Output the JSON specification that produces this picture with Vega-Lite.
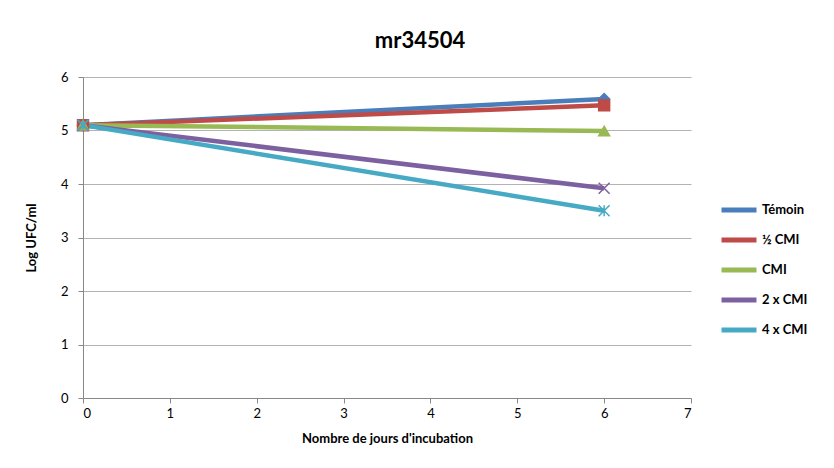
{
  "$schema": "https://vega.github.io/schema/vega-lite/v6.json",
  "width": 608,
  "height": 321,
  "autosize": {"type": "none"},
  "padding": {"left": 83, "top": 77, "right": 143, "bottom": 70},
  "background": "white",
  "config": {
    "font": "Lato",
    "view": {"stroke": null}
  },
  "title": {
    "text": "mr34504",
    "fontSize": 22,
    "fontWeight": "bold",
    "font": "Lato",
    "color": "#000000",
    "anchor": "middle",
    "dx": 33,
    "offset": 18
  },
  "data": {
    "values": [
      {"jour": 0, "serie": "Témoin", "val": 5.1, "ord": 1},
      {"jour": 6, "serie": "Témoin", "val": 5.59, "ord": 1},
      {"jour": 0, "serie": "½ CMI", "val": 5.1, "ord": 2},
      {"jour": 6, "serie": "½ CMI", "val": 5.47, "ord": 2},
      {"jour": 0, "serie": "CMI", "val": 5.1, "ord": 3},
      {"jour": 6, "serie": "CMI", "val": 4.99, "ord": 3},
      {"jour": 0, "serie": "2 x CMI", "val": 5.1, "ord": 4},
      {"jour": 6, "serie": "2 x CMI", "val": 3.92, "ord": 4},
      {"jour": 0, "serie": "4 x CMI", "val": 5.1, "ord": 5},
      {"jour": 6, "serie": "4 x CMI", "val": 3.5, "ord": 5}
    ]
  },
  "encoding": {
    "x": {
      "field": "jour",
      "type": "quantitative",
      "scale": {"domain": [0, 7], "nice": false, "zero": false},
      "axis": {
        "title": "Nombre de jours d'incubation",
        "titleFontSize": 13,
        "titleFontWeight": "bold",
        "titleColor": "#000000",
        "titlePadding": 12,
        "values": [0, 1, 2, 3, 4, 5, 6, 7],
        "format": "d",
        "labelFontSize": 13,
        "labelColor": "#000000",
        "labelPadding": 4,
        "grid": false,
        "domainColor": "#888888",
        "tickColor": "#888888",
        "tickSize": 5
      }
    },
    "y": {
      "field": "val",
      "type": "quantitative",
      "scale": {"domain": [0, 6], "nice": false},
      "axis": {
        "title": "Log UFC/ml",
        "titleFontSize": 13,
        "titleFontWeight": "bold",
        "titleColor": "#000000",
        "titlePadding": 22,
        "values": [0, 1, 2, 3, 4, 5, 6],
        "labelFontSize": 13,
        "labelColor": "#000000",
        "labelPadding": 10,
        "grid": true,
        "gridColor": "#b3b3b3",
        "domainColor": "#888888",
        "tickColor": "#888888",
        "tickSize": 5
      }
    },
    "color": {
      "field": "serie",
      "type": "nominal",
      "sort": ["Témoin", "½ CMI", "CMI", "2 x CMI", "4 x CMI"],
      "scale": {
        "domain": ["Témoin", "½ CMI", "CMI", "2 x CMI", "4 x CMI"],
        "range": ["#4A7EBB", "#BE4B48", "#98B954", "#7D60A0", "#46AAC5"]
      },
      "legend": {
        "title": null,
        "orient": "none",
        "legendX": 636,
        "legendY": 113,
        "symbolType": "stroke",
        "symbolSize": 1225,
        "symbolStrokeWidth": 5,
        "labelFontSize": 13,
        "labelFontWeight": "bold",
        "labelColor": "#000000",
        "rowPadding": -6.8,
        "labelOffset": 3
      }
    },
    "order": {"field": "ord", "type": "quantitative"}
  },
  "layer": [
    {
      "mark": {"type": "line", "strokeWidth": 4.5}
    },
    {
      "mark": {"type": "point", "filled": true, "size": 120, "strokeWidth": 1.5, "opacity": 1},
      "encoding": {
        "shape": {
          "field": "ord",
          "type": "nominal",
          "scale": {
            "domain": [1, 2, 3, 4, 5],
            "range": ["diamond", "square", "triangle-up", "M-1,-1L1,1M-1,1L1,-1", "M-1,-1L1,1M-1,1L1,-1M0,-1L0,1"]
          },
          "legend": null
        },
        "stroke": {
          "field": "ord",
          "type": "nominal",
          "scale": {
            "domain": [1, 2, 3, 4, 5],
            "range": ["#4A7EBB", "#BE4B48", "#98B954", "#7D60A0", "#46AAC5"]
          },
          "legend": null
        }
      }
    }
  ]
}
